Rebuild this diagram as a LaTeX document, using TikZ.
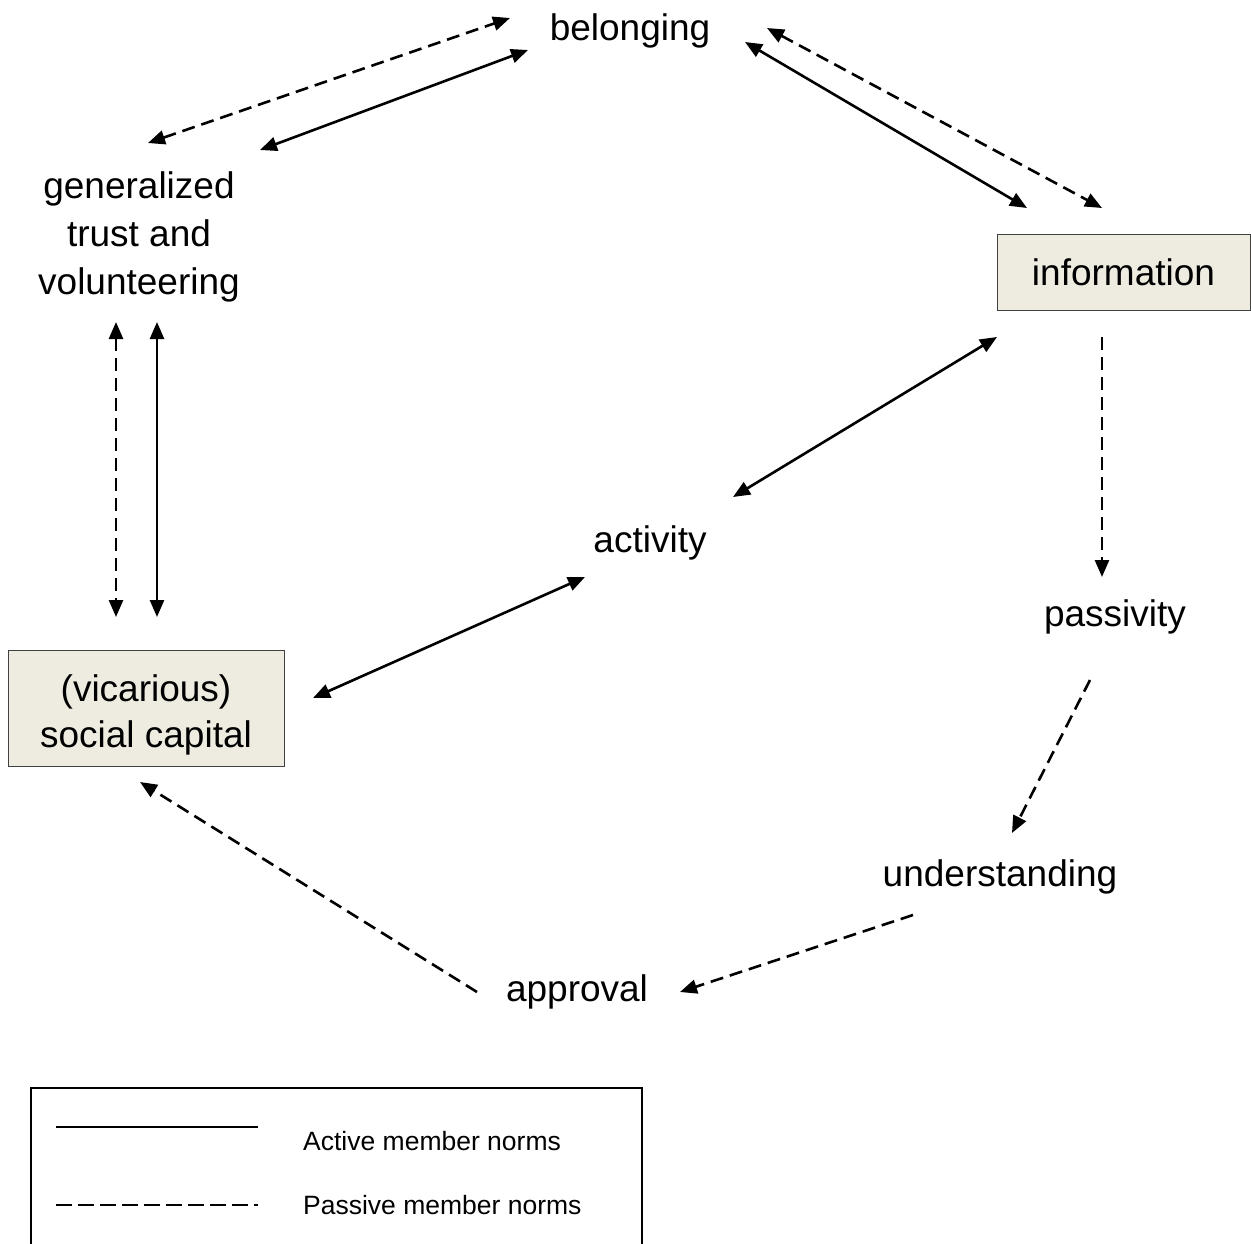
\documentclass[tikz,border=0pt]{standalone}
\usepackage{fontspec}
\setmainfont{Liberation Sans}
\usetikzlibrary{arrows.meta,calc}
\definecolor{boxfill}{HTML}{EEECE1}
\begin{document}
\begin{tikzpicture}[x=1pt,y=-1pt,
  lbl/.style={font=\fontsize{37}{48}\selectfont, align=center, inner sep=0pt},
  tbox/.style={draw=black!75, line width=1pt, fill=boxfill, inner sep=0pt},
  conn/.style={line width=2.6pt, {Triangle[length=17pt,width=14pt]}-{Triangle[length=17pt,width=14pt]}},
  oneway/.style={line width=2.6pt, -{Triangle[length=17pt,width=14pt]}},
  dsh/.style={dash pattern=on 13pt off 7pt},
  legtxt/.style={font=\fontsize{26.5}{30}\selectfont, anchor=west, inner sep=0pt}
]
\useasboundingbox (0,0) rectangle (1251,1243);
\clip (0,0) rectangle (1251,1243);

\node[lbl] (bel) at (630,31) {belonging};
\node[lbl] (gen) at (139,237) {generalized\\trust and\\volunteering};
\node[tbox, lbl, minimum width=253pt, minimum height=76pt] (inf) at (1123.5,272) {information};
\node[lbl] (act) at (650,543) {activity};
\node[lbl] (pas) at (1115,617) {passivity};
\node[tbox, minimum width=276pt, minimum height=116pt] (soc) at (146,708) {};
\node[lbl, font=\fontsize{37}{46}\selectfont] (soct) at (146,715) {(vicarious)\\social capital};
\node[lbl] (und) at (1000,877) {understanding};
\node[lbl] (app) at (577,992) {approval};

% belonging <-> generalized
\draw[conn,dsh] ($(gen.center)+(9,-94)$) -- ($(bel.center)+(-120,-13)$);
\draw[conn] ($(gen.center)+(121,-87)$) -- ($(bel.center)+(-102,19)$);
% belonging <-> information
\draw[conn] ($(bel.center)+(115,11)$) -- ($(inf.center)+(-96.5,-64)$);
\draw[conn,dsh] ($(bel.center)+(137,-3)$) -- ($(inf.center)+(-21.5,-64)$);
% generalized <-> social capital
\draw[conn,dsh] ($(gen.center)+(-23,85)$) -- ($(soc.center)+(-30,-91)$);
\draw[conn] ($(gen.center)+(18,85)$) -- ($(soc.center)+(11,-91)$);
% information <-> activity
\draw[conn] ($(inf.center)+(-126.5,65)$) -- ($(act.center)+(83,-46)$);
% information -> passivity
\draw[oneway,dsh] ($(inf.center)+(-21.5,65)$) -- ($(pas.center)+(-13,-40)$);
% activity <-> social capital
\draw[conn] ($(act.center)+(-65,34)$) -- ($(soc.center)+(167,-10)$);
% passivity -> understanding
\draw[oneway,dsh] ($(pas.center)+(-25,63)$) -- ($(und.center)+(12,-44)$);
% understanding -> approval
\draw[oneway,dsh] ($(und.center)+(-87,38)$) -- ($(app.center)+(103,0)$);
% approval -> social capital
\draw[oneway,dsh] ($(app.center)+(-100,0)$) -- ($(soc.center)+(-6,74)$);

% legend
\node[draw=black, line width=1.5pt, minimum width=611pt, minimum height=180pt, anchor=north west, inner sep=0pt] (leg) at (30,1087) {};
\coordinate (ls1) at ($(leg.north west)+(26,40)$);
\coordinate (le1) at ($(leg.north west)+(228,40)$);
\coordinate (ls2) at ($(leg.north west)+(26,118)$);
\coordinate (le2) at ($(leg.north west)+(228,118)$);
\draw[line width=2.4pt] (ls1) -- (le1);
\draw[line width=2.4pt, dash pattern=on 16pt off 6pt] (ls2) -- (le2);
\node[legtxt] (lt1) at ($(leg.north west)+(273,54)$) {Active member norms};
\node[legtxt] (lt2) at ($(leg.north west)+(273,118)$) {Passive member norms};
\end{tikzpicture}
\end{document}
